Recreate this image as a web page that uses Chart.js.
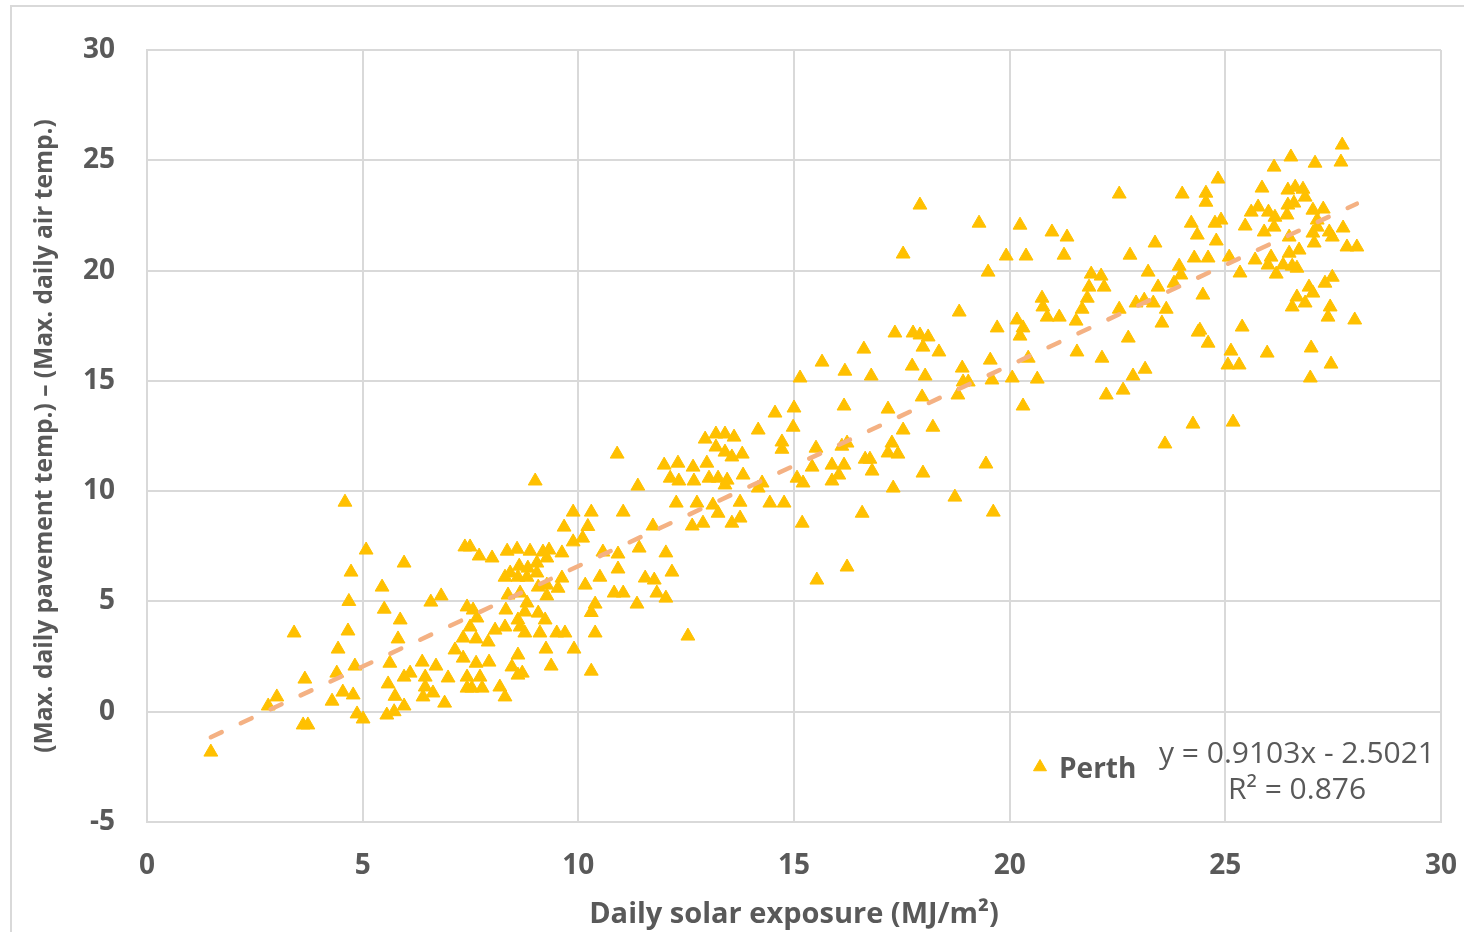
<!DOCTYPE html>
<html>
<head>
<meta charset="utf-8">
<title>Pavement vs air temperature - Perth</title>
<script src="https://cdn.jsdelivr.net/npm/chart.js@4.4.1/dist/chart.umd.min.js"></script>
<style>
    html, body { margin: 0; padding: 0; background: #ffffff; overflow: hidden; }
    #frame {
        position: absolute; left: 10px; top: 5px;
        width: 1480px; height: 960px;
        border: 2px solid #d9d9d9;
    }
    #wrap { position: absolute; left: 0; top: 0; width: 1464px; height: 932px; }
</style>
</head>
<body>
<div id="frame"></div>
<div id="wrap"><canvas id="scatterChart"></canvas></div>
<script>
// Daily solar exposure (MJ/m2)
const solarExposure = [
    1.48, 2.81, 3.01, 3.41, 3.62, 3.73, 3.66, 4.29, 4.40, 4.43, 4.54, 4.59, 4.66, 4.68, 4.73, 4.78,
    4.82, 4.87, 5.01, 5.08, 5.45, 5.50, 5.56, 5.59, 5.63, 5.73, 5.75, 5.82, 5.87, 5.96, 5.96, 5.96,
    9.00, 9.88, 10.30, 10.22, 9.67, 10.10, 9.88, 7.37, 7.49, 7.70, 8.00, 8.35, 8.58, 8.88, 9.18, 9.32,
    9.62, 9.27, 9.04, 8.42, 8.30, 8.63, 8.83, 8.60, 9.04, 8.81, 9.07, 9.27, 9.53, 9.62, 10.16, 10.50,
    9.27, 8.37, 8.65, 6.58, 6.82, 7.42, 7.56, 7.65, 8.32, 8.81, 8.76, 9.07, 10.30, 7.49, 8.07, 8.30,
    8.60, 9.23, 8.65, 8.76, 9.11, 9.50, 9.69, 10.39, 7.33, 7.63, 7.91, 7.14, 9.25, 9.90, 8.60, 7.33,
    6.38, 6.70, 7.63, 7.93, 8.46, 9.37, 10.30, 6.10, 6.45, 7.42, 7.72, 8.60, 8.70, 6.45, 6.98, 7.42,
    7.53, 7.77, 8.18, 6.40, 6.63, 6.90, 8.30,
    10.90, 11.38, 14.56, 15.00, 14.98, 14.17, 14.72, 14.72, 12.94, 13.19, 13.40, 13.61, 13.19, 13.40, 13.56, 13.80,
    11.99, 12.31, 12.66, 12.98, 13.82, 12.13, 12.33, 12.68, 13.03, 13.24, 13.45, 13.40, 14.26, 14.17, 15.07, 12.27,
    12.75, 13.12, 13.75, 14.44, 14.77, 13.24, 13.75, 13.56, 12.64, 12.89, 11.73, 11.04, 11.41, 10.57, 10.92, 12.03,
    10.92, 12.17, 11.55, 11.76, 10.83, 11.04, 11.82, 12.03, 11.36, 10.39, 12.54,
    17.92, 19.29, 17.53, 19.50, 18.83, 19.71, 17.34, 17.76, 17.92, 18.11, 17.99, 18.36, 16.62, 15.65, 16.18, 16.79,
    15.14, 17.74, 18.04, 18.90, 19.55, 19.59, 18.92, 19.04, 18.80, 17.97, 16.16, 17.18, 18.22, 17.53, 15.51, 16.11,
    16.23, 17.27, 17.18, 17.41, 15.42, 15.88, 16.16, 16.65, 16.76, 16.81, 15.21, 15.88, 16.04, 17.99, 19.45, 17.30,
    18.73, 19.62, 15.19, 16.58, 16.23, 15.53,
    22.54, 24.00, 20.24, 20.98, 21.33, 24.21, 24.35, 23.37, 19.92, 20.38, 21.26, 22.79, 24.28, 23.93, 21.89, 22.12,
    23.21, 23.97, 21.84, 22.19, 23.44, 23.81, 20.75, 21.80, 20.77, 20.87, 21.15, 21.68, 21.54, 22.93, 23.12, 23.33,
    22.54, 23.63, 23.53, 24.37, 20.17, 20.31, 20.24, 22.75, 20.43, 21.56, 22.14, 20.06, 20.64, 22.86, 23.14, 22.24,
    22.63, 20.31, 24.25, 23.60,
    27.71, 27.68, 26.52, 27.08, 26.13, 24.83, 24.55, 24.55, 25.85, 26.45, 26.62, 26.80, 26.85, 26.45, 26.59, 27.03,
    27.27, 25.76, 25.60, 26.00, 26.15, 26.43, 24.76, 24.90, 24.79, 25.46, 25.90, 26.13, 27.13, 27.13, 27.03, 27.41,
    27.48, 27.73, 27.06, 26.48, 27.82, 28.05, 24.60, 25.09, 25.69, 26.06, 25.99, 26.48, 26.71, 26.34, 26.55, 26.66,
    26.18, 25.34, 24.48, 26.94, 27.03, 27.31, 27.48, 26.66, 26.85, 26.55, 27.43, 27.38, 28.00, 24.41, 25.39, 24.60,
    25.13, 25.32, 25.06, 25.97, 26.99, 27.45, 26.97, 25.18
];

// (Max. daily pavement temp.) - (Max. daily air temp.), same order as above
const tempDifference = [
    -1.83, 0.26, 0.67, 3.57, -0.60, -0.60, 1.48, 0.48, 1.75, 2.84, 0.89, 9.50, 3.66, 5.00, 6.33, 0.76,
    2.07, -0.10, -0.33, 7.33, 5.65, 4.65, -0.15, 1.26, 2.20, 0.00, 0.70, 3.30, 4.16, 6.74, 1.57, 0.26,
    10.46, 9.05, 9.05, 8.40, 8.37, 7.87, 7.70, 7.47, 7.47, 7.06, 6.97, 7.28, 7.37, 7.28, 7.24, 7.33,
    7.20, 6.97, 6.74, 6.29, 6.10, 6.60, 6.51, 6.10, 6.29, 6.10, 5.65, 5.74, 5.60, 6.06, 5.74, 6.10,
    5.25, 5.29, 5.38, 4.97, 5.25, 4.75, 4.61, 4.25, 4.61, 4.93, 4.52, 4.47, 4.50, 3.84, 3.70, 3.84,
    4.16, 4.16, 3.84, 3.57, 3.57, 3.57, 3.57, 3.57, 3.34, 3.30, 3.16, 2.80, 2.84, 2.84, 2.57, 2.43,
    2.25, 2.07, 2.20, 2.25, 2.03, 2.07, 1.84, 1.75, 1.57, 1.57, 1.57, 1.66, 1.75, 1.12, 1.53, 1.07,
    1.07, 1.07, 1.12, 0.67, 0.85, 0.39, 0.67,
    11.68, 10.23, 13.54, 13.77, 12.90, 12.77, 12.23, 11.90, 12.36, 12.59, 12.59, 12.45, 12.00, 11.77, 11.55, 11.68,
    11.18, 11.27, 11.09, 11.27, 10.73, 10.59, 10.46, 10.46, 10.59, 10.59, 10.50, 10.28, 10.37, 10.14, 10.59, 9.46,
    9.46, 9.37, 9.50, 9.46, 9.46, 9.00, 8.78, 8.55, 8.42, 8.55, 8.42, 9.05, 7.42, 7.24, 7.15, 7.20,
    6.47, 6.33, 6.06, 5.97, 5.38, 5.38, 5.38, 5.15, 4.88, 4.88, 3.43,
    22.97, 22.15, 20.75, 19.93, 18.12, 17.40, 17.17, 17.17, 17.08, 16.99, 16.53, 16.31, 16.44, 15.85, 15.44, 15.22,
    15.13, 15.67, 15.22, 15.58, 15.94, 15.04, 14.95, 14.95, 14.36, 14.27, 13.86, 13.72, 12.90, 12.77, 11.95, 12.04,
    12.18, 12.18, 11.73, 11.68, 11.09, 11.18, 11.18, 11.45, 11.45, 10.91, 10.37, 10.46, 10.73, 10.82, 11.23, 10.14,
    9.73, 9.05, 8.55, 9.00, 6.56, 5.97,
    23.47, 23.47, 22.06, 21.75, 21.52, 22.15, 21.61, 21.25, 20.66, 20.66, 20.70, 20.70, 20.57, 20.20, 19.84, 19.75,
    19.93, 19.80, 19.25, 19.25, 19.25, 19.43, 18.75, 18.75, 18.35, 17.89, 17.89, 18.25, 17.71, 18.53, 18.66, 18.53,
    18.25, 18.25, 17.62, 17.21, 17.76, 17.40, 17.03, 16.94, 16.03, 16.31, 16.03, 15.13, 15.08, 15.22, 15.53, 14.36,
    14.58, 13.86, 13.04, 12.14,
    25.69, 24.92, 25.15, 24.87, 24.69, 24.15, 23.51, 23.10, 23.74, 23.65, 23.78, 23.69, 23.33, 22.97, 23.06, 22.74,
    22.79, 22.88, 22.65, 22.65, 22.42, 22.52, 22.15, 22.29, 21.34, 22.02, 21.75, 21.97, 22.29, 21.97, 21.70, 21.75,
    21.52, 21.93, 21.25, 21.52, 21.07, 21.07, 20.57, 20.61, 20.48, 20.61, 20.25, 20.79, 20.93, 20.25, 20.20, 20.11,
    19.84, 19.89, 18.89, 19.25, 18.98, 19.43, 19.70, 18.80, 18.53, 18.35, 18.35, 17.89, 17.76, 17.30, 17.44, 16.71,
    16.35, 15.72, 15.72, 16.26, 16.49, 15.76, 15.13, 13.13
];

// Linear trendline as printed on the chart
const trendSlope = 0.9103;
const trendIntercept = -2.5021;
const trendLabel = 'y = 0.9103x - 2.5021';
const r2Label = 'R² = 0.876';
const seriesName = 'Perth';

const textColor = '#595959';
const gridColor = '#d9d9d9';
const markerColor = '#FFC000';
const trendColor = '#F4B183';
const fontFamily = "'Open Sans', 'Noto Sans', sans-serif";

const points = solarExposure.map((x, i) => ({ x: x, y: tempDifference[i] }));
const xMin = Math.min(...solarExposure);
const xMax = Math.max(...solarExposure);
const trendPoints = [xMin, xMax].map(x => ({ x: x, y: trendSlope * x + trendIntercept }));

/**
 * Draws the in-plot legend entry and the trendline equation
 */
const legendAndEquation = {
    id: 'legendAndEquation',
    afterDatasetsDraw(chart) {
        const { ctx } = chart;
        ctx.save();
        ctx.fillStyle = markerColor;
        ctx.strokeStyle = markerColor;
        Chart.helpers.drawPoint(ctx, {
            pointStyle: 'triangle', radius: 7.5, rotation: 0, borderWidth: 1
        }, 1040, 767);

        ctx.fillStyle = textColor;
        ctx.textBaseline = 'alphabetic';
        ctx.textAlign = 'left';
        ctx.font = `bold 28px ${fontFamily}`;
        ctx.fillText(seriesName, 1059, 778);

        ctx.textAlign = 'center';
        ctx.font = `30px ${fontFamily}`;
        ctx.fillText(trendLabel, 1297, 763);
        ctx.fillText(r2Label, 1297, 799);
        ctx.restore();
    }
};

// Drop the label-overflow padding so the plot area lands where the reference has it
const noOverflow = (scale) => {
    scale.paddingLeft = 0;
    scale.paddingRight = 0;
    scale.paddingTop = 0;
    scale.paddingBottom = 0;
};

const ctx = document.getElementById('scatterChart');

new Chart(ctx, {
    type: 'scatter',
    data: {
        datasets: [
            {
                type: 'line',
                label: 'Linear (' + seriesName + ')',
                data: trendPoints,
                borderColor: trendColor,
                borderWidth: 4.5,
                borderDash: [12, 21],
                borderCapStyle: 'round',
                pointRadius: 0,
                fill: false
            },
            {
                label: seriesName,
                data: points,
                pointStyle: 'triangle',
                pointRadius: 8,
                pointHoverRadius: 8,
                pointBorderWidth: 1,
                backgroundColor: markerColor,
                borderColor: markerColor
            }
        ]
    },
    options: {
        responsive: true,
        maintainAspectRatio: false,
        animation: false,
        layout: {
            padding: { top: 50, right: 23, bottom: 0, left: 0 }
        },
        plugins: {
            legend: { display: false },
            tooltip: { enabled: false }
        },
        scales: {
            x: {
                type: 'linear',
                min: 0,
                max: 30,
                afterFit: (scale) => { scale.height = 110; noOverflow(scale); },
                grid: { color: gridColor, lineWidth: 2, drawTicks: false },
                border: { color: gridColor, width: 2 },
                ticks: {
                    stepSize: 5,
                    padding: 27,
                    color: textColor,
                    font: { family: fontFamily, size: 28, weight: 'bold' }
                },
                title: {
                    display: true,
                    text: 'Daily solar exposure (MJ/m²)',
                    color: textColor,
                    padding: { top: 0, bottom: 0 },
                    font: { family: fontFamily, size: 29, weight: 'bold' }
                }
            },
            y: {
                type: 'linear',
                min: -5,
                max: 30,
                afterFit: (scale) => { scale.width = 147; noOverflow(scale); },
                grid: { color: gridColor, lineWidth: 2, drawTicks: false },
                border: { color: gridColor, width: 2 },
                ticks: {
                    stepSize: 5,
                    padding: 32,
                    color: textColor,
                    font: { family: fontFamily, size: 28, weight: 'bold' }
                },
                title: {
                    display: true,
                    text: '(Max. daily pavement temp.) – (Max. daily air temp.)',
                    color: textColor,
                    padding: { top: 30, bottom: 0 },
                    font: { family: fontFamily, size: 24.5, weight: 'bold' }
                }
            }
        }
    },
    plugins: [legendAndEquation]
});
</script>
</body>
</html>
